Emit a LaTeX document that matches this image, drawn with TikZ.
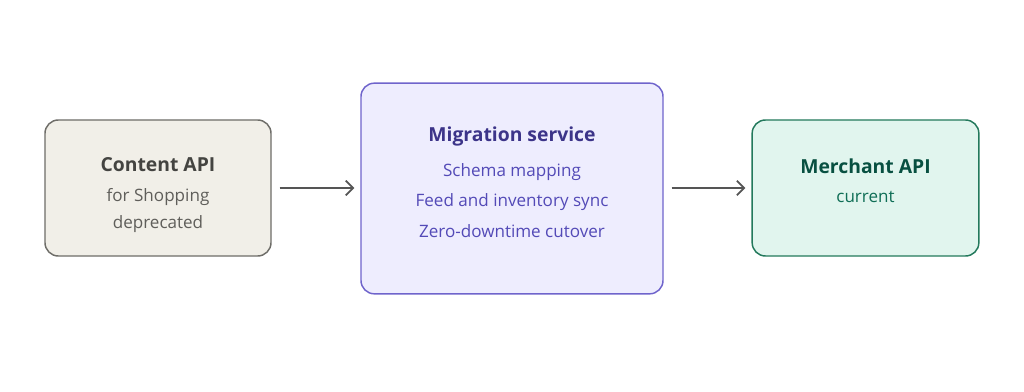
\documentclass[tikz,border=0pt]{standalone}
\usepackage{fontspec}
\setmainfont{Open Sans}
\usetikzlibrary{arrows.meta, positioning}
\definecolor{oldfill}{HTML}{F1EFE8}
\definecolor{olddraw}{HTML}{6E6D68}
\definecolor{oldtitle}{HTML}{444441}
\definecolor{oldtext}{HTML}{5F5E5A}
\definecolor{migfill}{HTML}{EEEDFE}
\definecolor{migdraw}{HTML}{6F64CC}
\definecolor{migtitle}{HTML}{3C3489}
\definecolor{migtext}{HTML}{534AB7}
\definecolor{newfill}{HTML}{E1F5EE}
\definecolor{newdraw}{HTML}{23795C}
\definecolor{newtitle}{HTML}{085041}
\definecolor{newtext}{HTML}{0F6E56}
\definecolor{arrowgray}{HTML}{555555}
\tikzset{
    box/.style={rectangle, rounded corners=10pt, line width=1.1pt},
    heading/.style={font=\bfseries\fontsize{14.5}{17}\selectfont, inner sep=0pt},
    detail/.style={font=\fontsize{12.8}{15}\selectfont, inner sep=0pt},
    flow/.style={-{Straight Barb[length=5.5pt, width=11pt, line width=1.3pt]}, line width=1.4pt, draw=arrowgray, shorten <=6pt, shorten >=4.5pt}
}
\begin{document}
\begin{tikzpicture}[x=0.75pt, y=-0.75pt]
    \useasboundingbox[fill=white] (0,0) rectangle (1024,392);
    % boxes
    \node[box, draw=olddraw, fill=oldfill, minimum width=169.5pt, minimum height=102pt] (content) at (158,188) {};
    \node[box, draw=migdraw, fill=migfill, minimum width=226.5pt, minimum height=158pt] (migration) at (512,188.5) {};
    \node[box, draw=newdraw, fill=newfill, minimum width=170pt, minimum height=102pt] (merchant) at (865.5,188) {};
    % texts
    \node[heading, text=oldtitle] (contentT) at (158,165) {Content API};
    \node[detail, text=oldtext] (contentA) at (158,197) {for Shopping};
    \node[detail, text=oldtext] (contentB) at (158,224) {deprecated};
    \node[heading, text=migtitle] (migrationT) at (512,136) {Migration service};
    \node[detail, text=migtext] (migrationA) at (512,172) {Schema mapping};
    \node[detail, text=migtext] (migrationB) at (512,202) {Feed and inventory sync};
    \node[detail, text=migtext] (migrationC) at (512,231) {Zero-downtime cutover};
    \node[heading, text=newtitle] (merchantT) at (865.5,166) {Merchant API};
    \node[detail, text=newtext] (merchantA) at (865.5,197) {current};
    % arrows
    \draw[flow] (content.east) -- (migration.west |- content.east);
    \draw[flow] (migration.east |- merchant.west) -- (merchant.west);
\end{tikzpicture}
\end{document}
